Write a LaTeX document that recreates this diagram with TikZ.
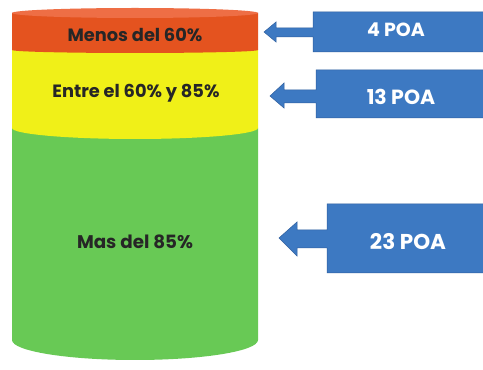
\documentclass[tikz,border=0pt]{standalone}
\usepackage{fontspec}
\setmainfont{Poppins}
\definecolor{redbody}{HTML}{E4531F}
\definecolor{redtop}{HTML}{EE6E45}
\definecolor{yellowbody}{HTML}{F0F018}
\definecolor{greenbody}{HTML}{68C955}
\definecolor{bluebox}{HTML}{3D79C2}
\definecolor{bluedark}{HTML}{2F5F9E}
\begin{document}
\begin{tikzpicture}[x=1pt,y=1pt,
  seglabel/.style={font=\bfseries\fontsize{17.8}{17.8}\selectfont, text=black!85, inner sep=0pt},
  poalabel/.style={font=\bfseries, text=white, inner sep=0pt},
  arrowshape/.style={fill=bluebox, draw=bluedark, line width=0.5pt}]
\useasboundingbox (0,0) rectangle (483,370);
\fill[white] (0,0) rectangle (483,370);
% cylinder
\fill[greenbody] (12,242) -- (12,30) arc[start angle=180,end angle=360,x radius=123,y radius=20] -- (258,242) -- cycle;
\fill[yellowbody] (12,320) -- (12,242) arc[start angle=180,end angle=360,x radius=123,y radius=11] -- (258,320) -- cycle;
\fill[redbody] (12,357) -- (12,320) arc[start angle=180,end angle=360,x radius=123,y radius=3] -- (258,357) -- cycle;
\fill[redtop] (135,357) ellipse[x radius=123,y radius=5];
\node[seglabel] (menos) at (135,335) {Menos del 60\%};
\node[seglabel] (entre) at (136,277) {Entre el 60\% y 85\%};
\node[seglabel, font=\bfseries\fontsize{18.3}{18.3}\selectfont] (mas) at (135,128) {Mas del 85\%};
% arrows
\draw[arrowshape] (483,358) -- (313,358) -- (313,342) -- (276,342) -- (276,348) -- (264,338) -- (276,328) -- (276,333) -- (313,333) -- (313,318) -- (483,318);
\draw[arrowshape] (483,300) -- (316,300) -- (316,280) -- (284,280) -- (284,287) -- (270,274) -- (284,262) -- (284,267) -- (316,267) -- (316,252) -- (483,252);
\draw[arrowshape] (483,166) -- (327,166) -- (327,140) -- (297,140) -- (297,148) -- (279,132) -- (297,114) -- (297,122) -- (327,122) -- (327,97) -- (483,97);
\node[poalabel, font=\bfseries\fontsize{19}{19}\selectfont] (p4) at (396,340) {4 POA};
\node[poalabel, font=\bfseries\fontsize{20.5}{20.5}\selectfont] (p13) at (401,273) {13 POA};
\node[poalabel, font=\bfseries\fontsize{21.5}{21.5}\selectfont] (p23) at (408,128) {23 POA};
\end{tikzpicture}
\end{document}
